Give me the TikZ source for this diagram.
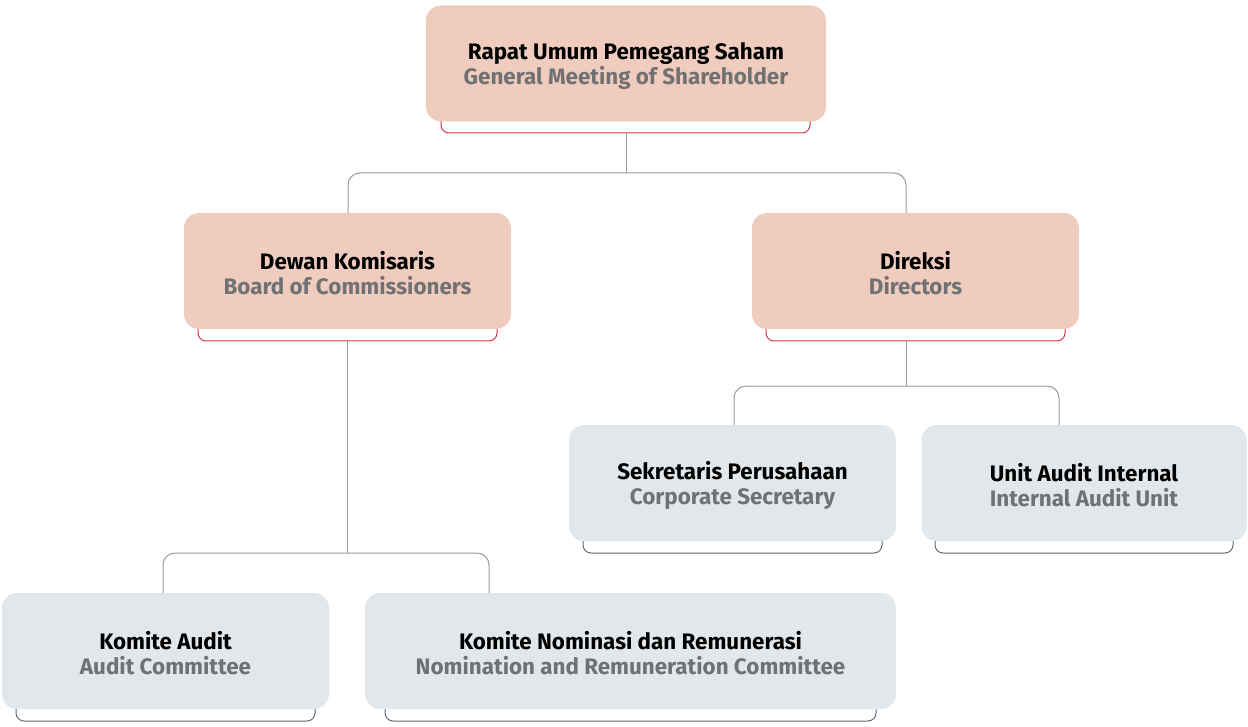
\documentclass[tikz,border=0pt]{standalone}
\usepackage{fontspec}
\setmainfont{Fira Sans}
\definecolor{peach}{HTML}{F0CCBE}
\definecolor{paleg}{HTML}{E1E7EB}
\definecolor{redln}{HTML}{D03A48}
\definecolor{grayln}{HTML}{5F6B78}
\definecolor{connc}{HTML}{9A9A9A}
\definecolor{subtx}{HTML}{707173}
\newcommand{\twoline}[2]{{\color{black}\rule{0pt}{22pt}#1}\\{\color{subtx}#2}}
\tikzset{
  orgbox/.style={rounded corners=15pt, inner sep=0pt, align=center,
    minimum height=116pt, font=\bfseries\fontsize{22.4}{25}\selectfont},
  peachbox/.style={orgbox, fill=peach},
  palebox/.style={orgbox, fill=paleg},
  redbr/.style={draw=redln, line width=1pt, rounded corners=8pt},
  graybr/.style={draw=grayln, line width=1pt, rounded corners=8pt},
  conn/.style={draw=connc, line width=1pt, rounded corners=12pt}
}
\begin{document}
\begin{tikzpicture}[x=1pt,y=-1pt]
\useasboundingbox (0,0) rectangle (1248,727);
% brackets (drawn first, under boxes)
\draw[redbr] (441,100) -- (441,133) -- (810,133) -- (810,100);
\draw[redbr] (198,310) -- (198,341) -- (497,341) -- (497,310);
\draw[redbr] (766,310) -- (766,341) -- (1065,341) -- (1065,310);
\draw[graybr] (583,520) -- (583,553) -- (882,553) -- (882,520);
\draw[graybr] (935,520) -- (935,553) -- (1233,553) -- (1233,520);
\draw[graybr] (16,690) -- (16,721) -- (315,721) -- (315,690);
\draw[graybr] (385,690) -- (385,721) -- (876,721) -- (876,690);
% boxes
\node[peachbox, minimum width=400pt] (rups) at (626,63.5)
  {\twoline{Rapat Umum Pemegang Saham}{General Meeting of Shareholder}};
\node[peachbox, minimum width=327pt] (dewan) at (347.5,271)
  {\twoline{Dewan Komisaris}{Board of Commissioners}};
\node[peachbox, minimum width=327pt] (direksi) at (915.5,271)
  {\twoline{Direksi}{Directors}};
\node[palebox, minimum width=327pt] (sek) at (732.5,483)
  {\twoline{Sekretaris Perusahaan}{Corporate Secretary}};
\node[palebox, minimum width=325pt] (uai) at (1084,483)
  {\twoline{Unit Audit Internal}{Internal Audit Unit}};
\node[palebox, minimum width=327pt] (ka) at (165.5,651)
  {\twoline{Komite Audit}{Audit Committee}};
\node[palebox, minimum width=531pt] (knr) at (630.5,651)
  {\twoline{Komite Nominasi dan Remunerasi}{Nomination and Remuneration Committee}};
% connector coordinates
\coordinate (rb) at (626,133);
\coordinate (j1) at (626,173);
\coordinate (dewt) at (348,213);
\coordinate (dirt) at (906,213);
\coordinate (dewb) at (347,341);
\coordinate (j2) at (347,553);
\coordinate (kat) at (163,593);
\coordinate (knrt) at (489,593);
\coordinate (dirb) at (906,341);
\coordinate (j3) at (906,386);
\coordinate (sekt) at (734,425);
\coordinate (uait) at (1059,425);
\draw[conn] (rb) -- (j1);
\draw[conn] (j1) -| (dewt);
\draw[conn] (j1) -| (dirt);
\draw[conn] (dewb) -- (j2);
\draw[conn] (j2) -| (kat);
\draw[conn] (j2) -| (knrt);
\draw[conn] (dirb) -- (j3);
\draw[conn] (j3) -| (sekt);
\draw[conn] (j3) -| (uait);
\end{tikzpicture}
\end{document}
